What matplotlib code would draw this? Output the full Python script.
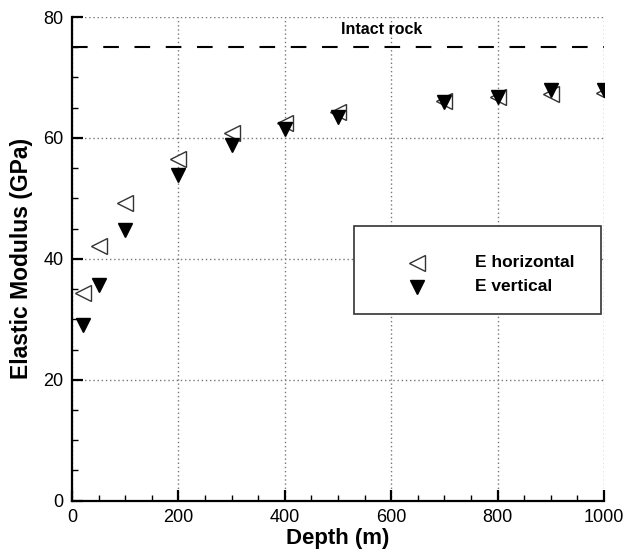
import numpy as np
import matplotlib
matplotlib.use("Agg")
import matplotlib.pyplot as plt
from matplotlib.ticker import MultipleLocator
from matplotlib.patches import Rectangle

# data
depth = [20, 50, 100, 200, 300, 400, 500, 700, 800, 900, 1000]
e_horizontal = [34.4, 42.1, 49.2, 56.5, 60.8, 62.5, 64.3, 66.1, 66.8, 67.2, 67.4]
e_vertical = [29.1, 35.6, 44.8, 53.8, 58.8, 61.5, 63.4, 65.9, 66.7, 68.0, 68.0]
intact_rock = 75.0
labels = ["E horizontal", "E vertical"]

plt.rcParams['font.family'] = ['Liberation Sans', 'DejaVu Sans']

fig = plt.figure(figsize=(6.25, 5.49), dpi=100)
ax = fig.add_axes([0.1152, 0.088, 0.8512, 0.881])

# grid (dotted), also forms the top/right border
ax.grid(True, which='major', color='#777777', linestyle=(0, (1, 2)), linewidth=1.0, zorder=0)
ax.set_axisbelow(True)

ax.axhline(intact_rock, color='black', linewidth=1.5, dashes=(7.5, 7.5), zorder=2)
ax.text(583, 77.9, "Intact rock", ha='center', va='center', fontsize=11.5, fontweight='bold')

ax.plot(depth, e_horizontal, linestyle='none', marker='<', markersize=11,
        markerfacecolor='white', markeredgecolor='#333333', markeredgewidth=1.0, zorder=3)
ax.plot(depth, e_vertical, linestyle='none', marker='v', markersize=10,
        markerfacecolor='black', markeredgecolor='black', zorder=4)

ax.set_xlim(0, 1000)
ax.set_ylim(0, 80)
ax.xaxis.set_major_locator(MultipleLocator(200))
ax.xaxis.set_minor_locator(MultipleLocator(50))
ax.yaxis.set_major_locator(MultipleLocator(20))
ax.yaxis.set_minor_locator(MultipleLocator(5))

for s in ['top', 'right']:
    ax.spines[s].set_visible(False)
for s in ['left', 'bottom']:
    ax.spines[s].set_linewidth(1.6)

ax.tick_params(which='major', direction='in', length=8, width=1.6, labelsize=13, pad=6)
ax.tick_params(which='minor', direction='in', length=4, width=1.0)
ax.tick_params(top=False, right=False, which='both')

ax.set_xlabel("Depth (m)", fontsize=16, fontweight='bold', va='center')
ax.xaxis.set_label_coords(0.5, -0.078)
ax.set_ylabel("Elastic Modulus (GPa)", fontsize=16.5, fontweight='bold', va='center')
ax.yaxis.set_label_coords(-0.094, 0.5)

# legend box drawn by hand to match the placement
box = Rectangle((0.53, 0.386), 0.464, 0.182, transform=ax.transAxes,
                facecolor='white', edgecolor='#333333', linewidth=1.2, zorder=5)
ax.add_patch(box)
ax.plot([0.648], [0.492], transform=ax.transAxes, marker='<', markersize=11,
        markerfacecolor='white', markeredgecolor='#333333', markeredgewidth=1.0,
        linestyle='none', zorder=6)
ax.plot([0.648], [0.442], transform=ax.transAxes, marker='v', markersize=10,
        color='black', linestyle='none', zorder=6)
ax.text(0.758, 0.492, labels[0], transform=ax.transAxes, fontsize=12.5,
        fontweight='bold', va='center', ha='left', zorder=6)
ax.text(0.758, 0.442, labels[1], transform=ax.transAxes, fontsize=12.5,
        fontweight='bold', va='center', ha='left', zorder=6)

fig.savefig("out.png", dpi=100)
